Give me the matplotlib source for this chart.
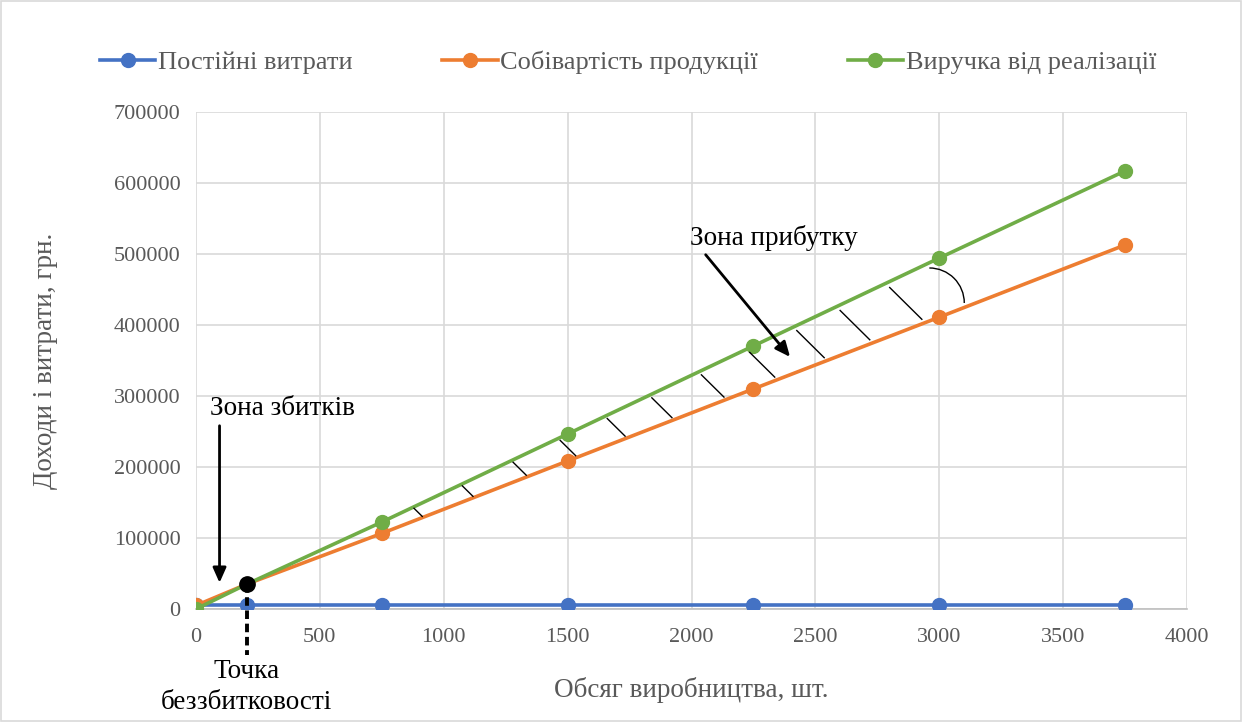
import matplotlib
matplotlib.use("Agg")
import matplotlib.pyplot as plt
from matplotlib.patches import Arc, Rectangle
import numpy as np

plt.rcParams['font.family'] = ['Liberation Serif', 'DejaVu Serif']

# ---- data ----
volume = [0, 205, 750, 1500, 2250, 3000, 3750]
fixed_costs = [5000, 5000, 5000, 5000, 5000, 5000, 5000]
cost_of_production = [5000, 35000, 106500, 208500, 310000, 411000, 512700]
revenue = [0, 35000, 122500, 246500, 370500, 494300, 617000]
series_names = ["Постійні витрати", "Собівартість продукції", "Виручка від реалізації"]
breakeven_x = [205]
breakeven_y = [35000]
hatch_x = [880, 1075, 1280, 1470, 1660, 1840, 2040, 2235, 2425, 2600, 2800]
x_ticks = [0, 500, 1000, 1500, 2000, 2500, 3000, 3500, 4000]
y_ticks = [0, 100000, 200000, 300000, 400000, 500000, 600000, 700000]

colors = ["#4472C4", "#ED7D31", "#70AD47"]
grey_text = "#595959"
FS = 19.5
TFS = 16

fig = plt.figure(figsize=(12.42, 7.22), dpi=100)
ax = fig.add_axes([196/1242, 1-609/722, (1187-196)/1242, (609-112)/722])

for yv, name, c in zip([fixed_costs, cost_of_production, revenue], series_names, colors):
    ax.plot(volume, yv, color=c, lw=2.6, marker='o', markersize=10, label=name, zorder=3)

ax.set_xlim(0, 4000)
ax.set_ylim(0, 700000)
ax.set_xticks(x_ticks)
ax.set_yticks(y_ticks)
ax.set_xticklabels([str(t) for t in x_ticks], fontsize=TFS, color=grey_text)
ax.set_yticklabels([str(t) for t in y_ticks], fontsize=TFS, color=grey_text)
ax.tick_params(axis='x', length=0, pad=14)
ax.tick_params(axis='y', length=0, pad=11)
ax.grid(True, color="#D9D9D9", lw=1.2, zorder=0)
ax.set_axisbelow(True)
for s in ['top', 'right', 'left']:
    ax.spines[s].set_visible(False)
ax.spines['bottom'].set_color("#BFBFBF")
ax.spines['bottom'].set_linewidth(1.2)

ax.set_xlabel("Обсяг виробництва, шт.", fontsize=FS, color=grey_text)
ax.xaxis.label.set_va('center')
ax.xaxis.set_label_coords(0.5, (609-690)/497)
ax.set_ylabel("Доходи і витрати, грн.", fontsize=FS, color=grey_text)
ax.yaxis.label.set_va('center')
ax.yaxis.set_label_coords((46-196)/991, 0.5)

leg = ax.legend(loc='center', bbox_to_anchor=((628-196)/991, (609-62)/497), ncol=3, frameon=False,
                fontsize=19, handlelength=2.1, handletextpad=0.1, columnspacing=3.4,
                labelcolor=grey_text)

# hatch lines in the profit zone
vol = np.array(volume, dtype=float)
rev = np.array(revenue, dtype=float)
cost = np.array(cost_of_production, dtype=float)
for hx in hatch_x:
    g0 = np.interp(hx, vol, rev)
    o0 = np.interp(hx, vol, cost)
    gap = g0 - o0
    x1 = hx + 0.00168 * gap
    g1 = np.interp(x1, vol, rev)
    o1 = np.interp(x1, vol, cost)
    gap1 = g1 - o1
    ax.plot([hx, x1], [g0 - 0.11 * gap, o1 + 0.08 * gap1], color='black', lw=1.0, zorder=4)

# arc near 3000
ax.add_patch(Arc((2960, 431000), width=2*141, height=2*49300, theta1=0, theta2=90,
                 color='black', lw=1.0, zorder=4))

# break-even point
ax.plot(breakeven_x, breakeven_y, 'o', color='black', markersize=11, zorder=6)
ax.plot([breakeven_x[0], breakeven_x[0]], [breakeven_y[0], -65000], color='black', lw=2.8,
        ls=(0, (2.2, 1.2)), zorder=6, clip_on=False)

# annotations
ax.annotate("", xy=(95, 33000), xytext=(95, 262000),
            arrowprops=dict(arrowstyle="-|>,head_length=0.9,head_width=0.4", color='black', lw=2.0),
            zorder=7)
ax.text(55, 283000, "Зона збитків", fontsize=FS, color='black', ha='left', va='center')
ax.text(breakeven_x[0], -88000, "Точка", fontsize=FS, color='black', ha='center', va='center')
ax.text(breakeven_x[0], -132000, "беззбитковості", fontsize=FS, color='black', ha='center', va='center')

ax.annotate("", xy=(2405, 352000), xytext=(2050, 502000),
            arrowprops=dict(arrowstyle="-|>,head_length=0.9,head_width=0.4", color='black', lw=2.0),
            zorder=7)
ax.text(1995, 523000, "Зона прибутку", fontsize=FS, color='black', ha='left', va='center')

# outer chart border
fig.add_artist(Rectangle((0.0008, 0.0014), 0.9984, 0.9972, transform=fig.transFigure,
                         fill=False, edgecolor="#D9D9D9", lw=1.2))

fig.savefig("out.png", dpi=100)
